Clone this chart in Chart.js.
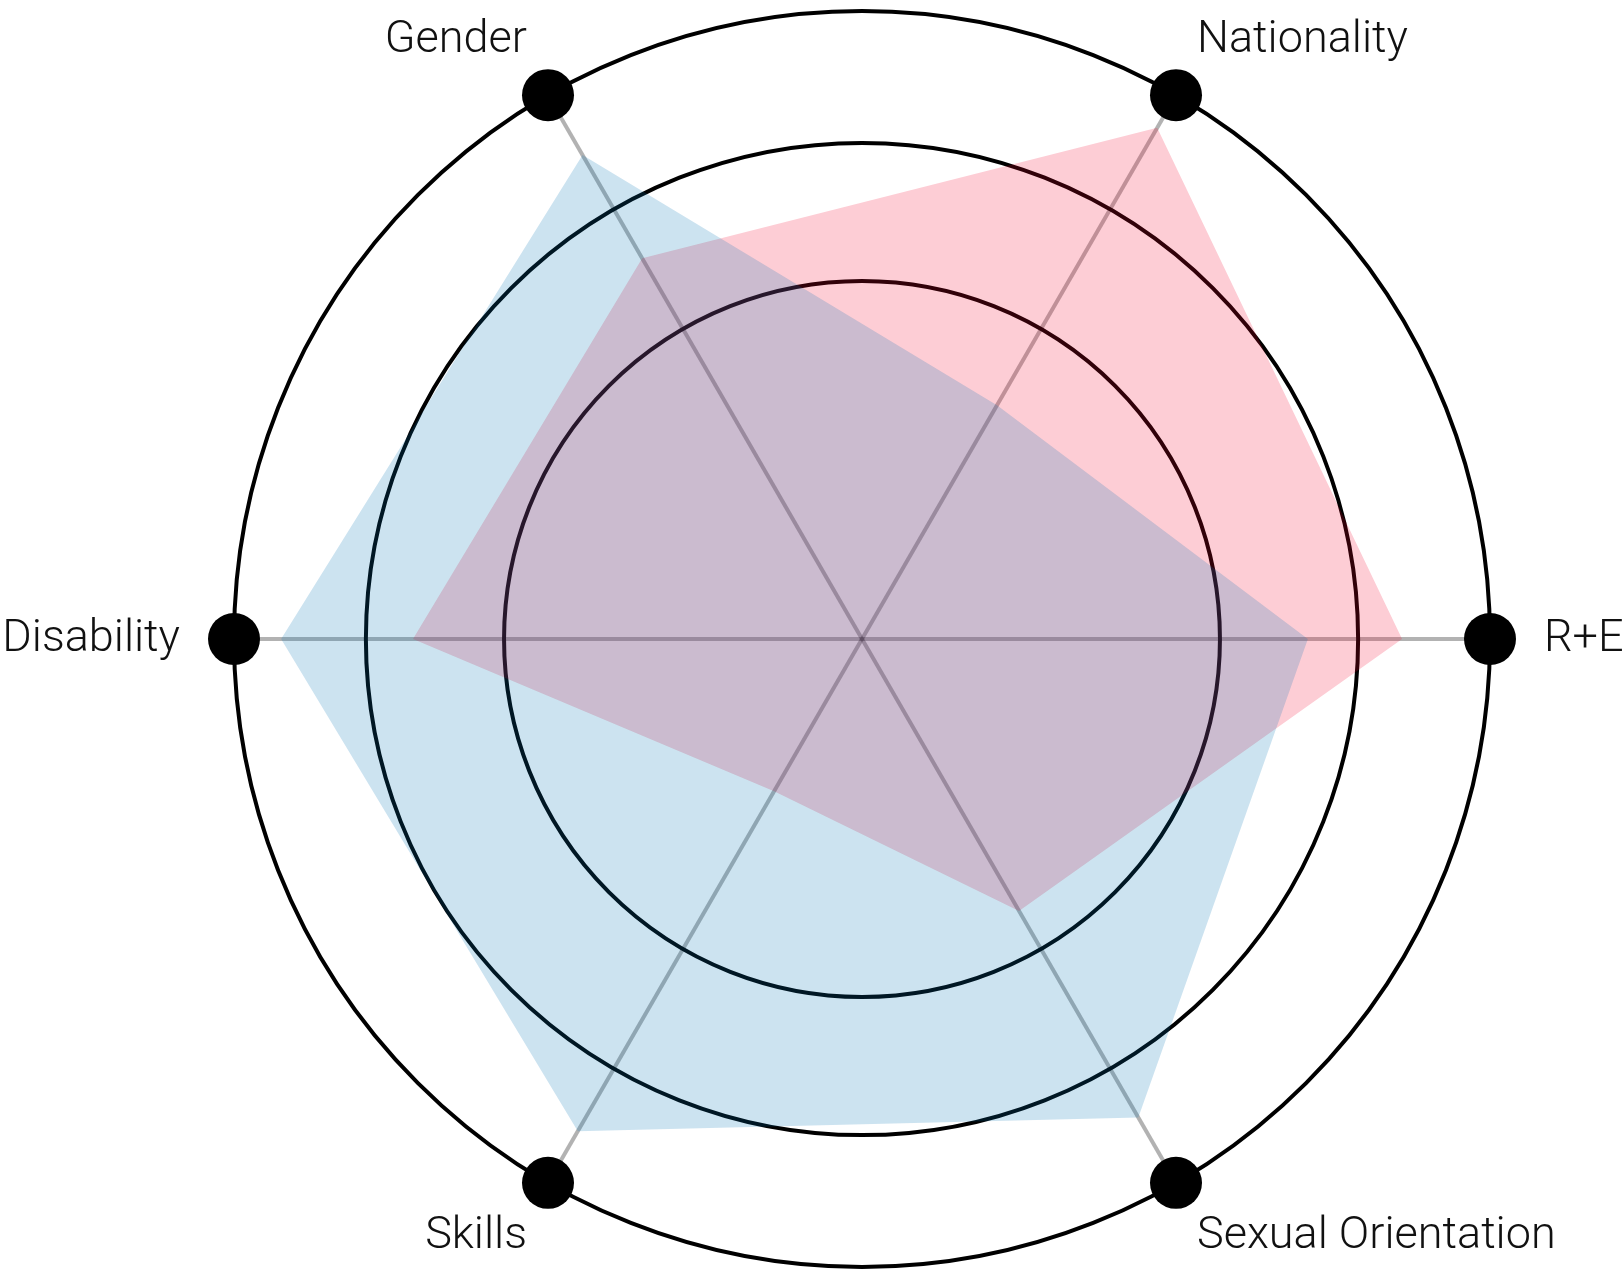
<!DOCTYPE html>
<html>
<head>
<meta charset="utf-8">
<title>Radar</title>
<script src="https://cdn.jsdelivr.net/npm/chart.js@4.4.1/dist/chart.umd.min.js"></script>
<style>
  html, body { margin: 0; padding: 0; background: #fff; }
  #wrap { width: 1623px; height: 1274px; position: relative; }
</style>
</head>
<body>
<div id="wrap"><canvas id="radar_chart"></canvas></div>
<script>
// Data

const categories = ['Gender', 'Nationality', 'R+E', 'Sexual Orientation', 'Skills', 'Disability'];
const blueValues = [89, 43, 71, 88, 90.5, 92.5];
const pinkValues = [70, 94, 86, 50, 28, 71.5];
const markerValues = [100, 100, 100, 100, 100, 100];
const ringValues = [0, 57, 79, 100];

// Labels next to the black markers

const outerLabels = {
    id: 'outerLabels',
    afterDraw(chart) {
        const scale = chart.scales.r;
        const ctx = chart.ctx;
        ctx.save();
        ctx.font = '300 45px Roboto';
        ctx.fillStyle = '#111';
        ctx.textBaseline = 'alphabetic';
        categories.forEach((label, i) => {
            const p = scale.getPointPosition(i, scale.drawingArea + 34);
            const cx = Math.cos(p.angle);
            const sy = Math.sin(p.angle);
            let x = p.x;
            let y = p.y;
            if (Math.abs(cx) < 0.05) {
                ctx.textAlign = 'center';
            } else {
                ctx.textAlign = cx > 0 ? 'left' : 'right';
                x += Math.sign(cx) * (Math.abs(cx) > 0.95 ? 20 : 4);
            }
            if (sy < -0.05) {
                y -= 14;
            } else if (sy > 0.05) {
                y += 36;
            } else {
                y += 12;
            }
            ctx.fillText(label, x, y);
        });
        ctx.restore();
    }
};

const radar_chart = new Chart(document.getElementById('radar_chart'), {
    type: 'radar',
    data: {
        labels: categories,
        datasets: [{
            data: markerValues,
            showLine: false,
            fill: false,
            borderWidth: 0,
            pointRadius: 26,
            pointHoverRadius: 26,
            pointBorderWidth: 0,
            pointBackgroundColor: '#000'
        }, {
            data: blueValues,
            fill: true,
            backgroundColor: 'rgba(0, 115, 180, 0.2)',
            borderWidth: 0,
            pointRadius: 0
        }, {
            data: pinkValues,
            fill: true,
            backgroundColor: 'rgba(245, 5, 45, 0.2)',
            borderWidth: 0,
            pointRadius: 0
        }]
    },
    options: {
        responsive: true,
        maintainAspectRatio: false,
        animation: false,
        layout: {
            padding: { top: 11, bottom: 7, left: 101, right: 0 }
        },
        plugins: {
            legend: { display: false },
            tooltip: { enabled: false }
        },
        elements: {
            line: { tension: 0 }
        },
        scales: {
            r: {
                min: 0,
                max: 100,
                startAngle: 330,
                afterBuildTicks: (scale) => {
                    scale.ticks = ringValues.map(v => ({ value: v }));
                },
                ticks: { display: false },
                pointLabels: { display: false },
                grid: {
                    circular: true,
                    color: '#000',
                    lineWidth: 4
                },
                angleLines: {
                    color: 'rgba(0, 0, 0, 0.3)',
                    lineWidth: 4
                }
            }
        }
    },
    plugins: [outerLabels]
});
</script>
</body>
</html>
